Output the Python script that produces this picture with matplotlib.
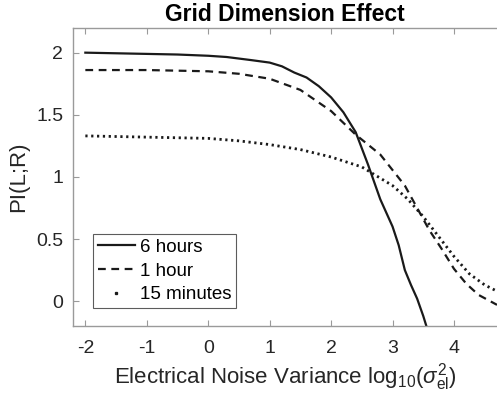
import matplotlib
matplotlib.use("Agg")
import matplotlib.pyplot as plt
from matplotlib.lines import Line2D

plt.rcParams['font.family'] = ['Liberation Sans', 'DejaVu Sans']
plt.rcParams['mathtext.fontset'] = 'custom'
plt.rcParams['mathtext.rm'] = 'Liberation Sans'
plt.rcParams['mathtext.it'] = 'Liberation Sans:italic'
plt.rcParams['mathtext.bf'] = 'Liberation Sans:bold'

# PI curves vs log10 of electrical noise variance
x_6h = [-2, -1.5, -1, -0.5, 0, 0.3, 0.7, 1.0, 1.2, 1.4, 1.6, 1.8, 2.0, 2.2, 2.4,
        2.6, 2.8, 2.9, 3.0, 3.1, 3.2, 3.3, 3.4, 3.5, 3.55]
pi_6h = [2.00, 1.995, 1.99, 1.985, 1.975, 1.965, 1.94, 1.92, 1.89, 1.84, 1.80, 1.73,
         1.64, 1.52, 1.36, 1.10, 0.82, 0.71, 0.60, 0.45, 0.25, 0.13, 0.02, -0.12, -0.2]

x_1h = [-2, -1, 0, 0.5, 1.0, 1.5, 2.0, 2.4, 2.8, 3.2, 3.4, 3.6, 3.8, 4.0, 4.2, 4.4, 4.7]
pi_1h = [1.86, 1.86, 1.85, 1.83, 1.79, 1.70, 1.53, 1.34, 1.18, 0.93, 0.75, 0.57,
         0.42, 0.26, 0.14, 0.05, -0.03]

x_15m = [-2, -1, 0, 0.5, 1.0, 1.5, 2.0, 2.5, 3.0, 3.25, 3.5, 3.75, 4.0, 4.25, 4.5, 4.7]
pi_15m = [1.33, 1.32, 1.31, 1.29, 1.26, 1.22, 1.16, 1.08, 0.93, 0.82, 0.68, 0.52,
          0.36, 0.22, 0.13, 0.08]

labels = ['6 hours', '1 hour', '15 minutes']
xticks = [-2, -1, 0, 1, 2, 3, 4]
yticks = [0, 0.5, 1, 1.5, 2]

fig = plt.figure(figsize=(4.97, 4.09), dpi=100)
ax = fig.add_axes([0.147, 0.203, 0.853, 0.729])

ink = '#1a1a1a'
ax.plot(x_6h, pi_6h, color=ink, lw=1.6, ls='-')
ax.plot(x_1h, pi_1h, color=ink, lw=1.6, ls=(0, (3.5, 2.5)))
ax.plot(x_15m, pi_15m, color=ink, lw=2.0, ls=(0, (0.8, 1.3)))

ax.set_xlim(-2.2, 4.7)
ax.set_ylim(-0.2, 2.2)
ax.set_xticks(xticks)
ax.set_yticks(yticks)
ax.set_xticklabels([str(t) for t in xticks])
ax.set_yticklabels(['0', '0.5', '1', '1.5', '2'])

for s in ['left', 'bottom', 'top']:
    ax.spines[s].set_color('#9a9a9a')
    ax.spines[s].set_linewidth(1.0)
ax.spines['right'].set_visible(False)
ax.tick_params(direction='in', length=4, color='#9a9a9a', labelsize=14,
               labelcolor='#262626', top=True, right=False)
ax.tick_params(axis='x', pad=10)
ax.tick_params(axis='y', pad=7)

ax.set_title('Grid Dimension Effect', fontsize=16.5, fontweight='bold', pad=5)
ax.set_xlabel(r'Electrical Noise Variance log$_{10}$($\sigma^2_{\mathrm{el}}$)',
              fontsize=16, color='#262626', labelpad=3)
ax.set_ylabel('PI(L;R)', fontsize=16, color='#262626', labelpad=5)

# legend proxies; the dotted entry shows a single dot like the original
handles = [Line2D([], [], color=ink, lw=1.6, ls='-'),
           Line2D([], [], color=ink, lw=1.6, ls=(0, (3.5, 2.5))),
           Line2D([], [], color=ink, ls='none', marker='s', markersize=1.4)]
leg = ax.legend(handles, labels, loc='lower left', bbox_to_anchor=(0.047, 0.06),
                fontsize=13.5, frameon=True, fancybox=False, edgecolor='#333333',
                handlelength=2.0, handletextpad=0.25, borderpad=0.25,
                labelspacing=0.35, borderaxespad=0, numpoints=1)
leg.get_frame().set_linewidth(0.8)

fig.savefig('out.png', dpi=100)
